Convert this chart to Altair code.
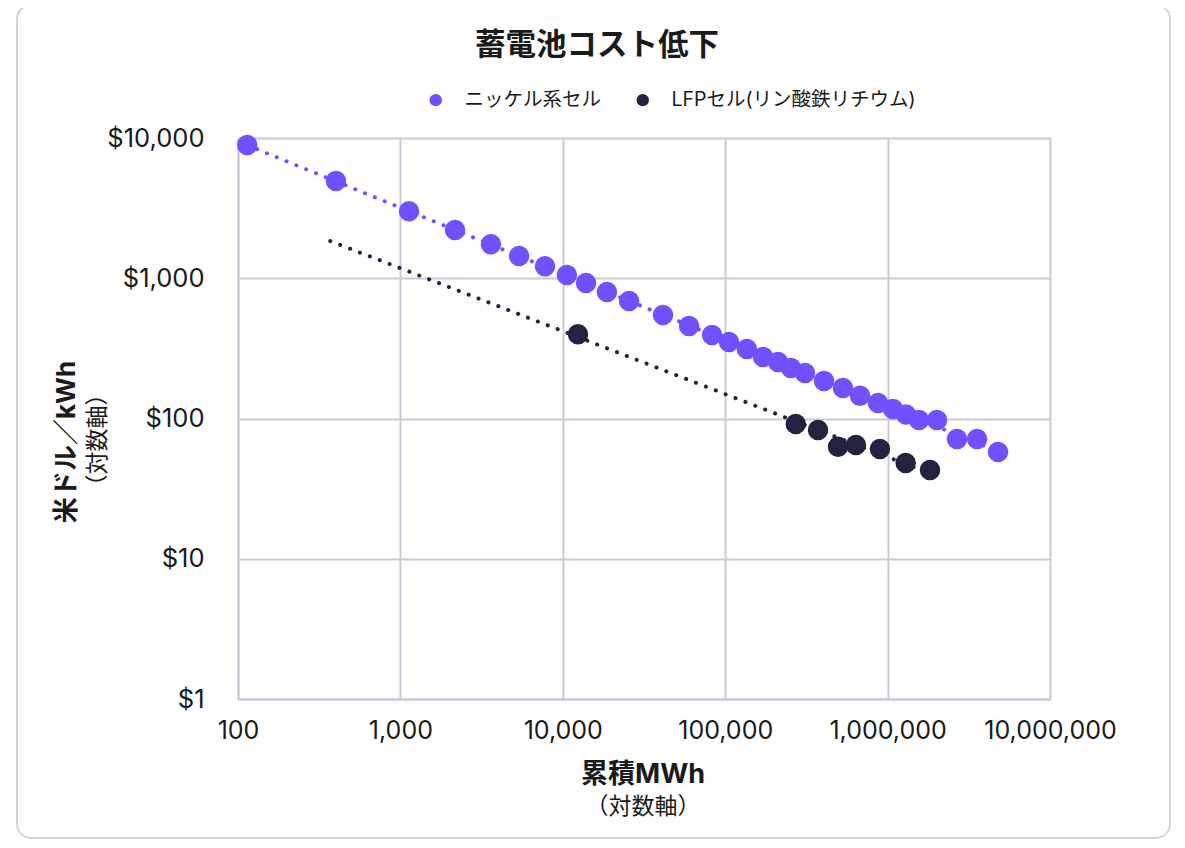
import altair as alt
import pandas as pd

# ---- data ----
nickel_name = "ニッケル系セル"
lfp_name = "LFPセル(リン酸鉄リチウム)"

nickel_mwh = [114, 401, 1130, 2170, 3610, 5380, 7770, 10600, 13900, 18700,
              25600, 41400, 59900, 83000, 105500, 136000, 171000, 211500, 254000, 310000,
              406000, 531000, 676000, 873000, 1079000, 1298000, 1560000, 2014000, 2675000, 3554000,
              4786000]
nickel_cost = [8900, 4930, 3010, 2210, 1750, 1440, 1220, 1054, 925, 798,
               688, 547, 457, 394, 351, 313, 274, 253, 229, 211,
               185, 165, 145, 129, 117, 107, 97.5, 97.5, 71.3, 71.3,
               57.6]

lfp_mwh = [12400, 272000, 373000, 495000, 638000, 897000, 1292000, 1824000]
lfp_cost = [398, 91.2, 82.7, 62.8, 64.6, 60.5, 48.1, 42.9]

x_ticks = [100, 1000, 10000, 100000, 1000000, 10000000]
y_ticks = [1, 10, 100, 1000, 10000]

PURPLE = "#7150FE"
DARK = "#222241"
GRID = "#CACADA"
FONT = "Inter, 'Noto Sans CJK JP', sans-serif"
TXT = "#1a1a1a"

df = pd.DataFrame({
    "mwh": nickel_mwh + lfp_mwh,
    "cost": nickel_cost + lfp_cost,
    "series": [nickel_name] * len(nickel_mwh) + [lfp_name] * len(lfp_mwh),
})

W, H = 812, 561

xscale = alt.Scale(type="log", domain=[100, 10000000])
yscale = alt.Scale(type="log", domain=[1, 10000])

xaxis = alt.Axis(values=x_ticks, format=",", grid=True, gridColor=GRID, gridWidth=2,
                 ticks=False, domainColor=GRID, domainWidth=2, labelFontSize=25,
                 labelFont=FONT, labelColor=TXT, labelPadding=19, title=None,
                 labelFlush=False, labelOverlap=False)
yaxis = alt.Axis(values=y_ticks, format="$,.0f", grid=True, gridColor=GRID, gridWidth=2,
                 ticks=False, domainColor=GRID, domainWidth=2, labelFontSize=25.5,
                 labelFont=FONT, labelColor=TXT, labelPadding=34, title=None,
                 labelFlush=False, labelOverlap=False)

base = alt.Chart(df)

trend_nickel = base.transform_filter(
    alt.datum.series == nickel_name
).transform_regression("mwh", "cost", method="pow").mark_line(
    color=PURPLE, strokeWidth=4, strokeDash=[0.1, 10.5], strokeCap="round"
).encode(
    x=alt.X("mwh:Q", scale=xscale, axis=xaxis),
    y=alt.Y("cost:Q", scale=yscale, axis=yaxis),
)

trend_lfp = base.transform_filter(
    alt.datum.series == lfp_name
).transform_regression("mwh", "cost", method="pow", extent=[370, 1824000]).mark_line(
    color=DARK, strokeWidth=4, strokeDash=[0.1, 10.5], strokeCap="round"
).encode(
    x=alt.X("mwh:Q", scale=xscale, axis=xaxis),
    y=alt.Y("cost:Q", scale=yscale, axis=yaxis),
)

points = base.mark_circle(size=420, opacity=1).encode(
    x=alt.X("mwh:Q", scale=xscale, axis=xaxis),
    y=alt.Y("cost:Q", scale=yscale, axis=yaxis),
    color=alt.Color("series:N",
                    scale=alt.Scale(domain=[nickel_name, lfp_name], range=[PURPLE, DARK]),
                    legend=alt.Legend(title=None, orient="none", direction="horizontal",
                                      legendX=188, legendY=-48,
                                      symbolType="circle", symbolSize=154,
                                      symbolStrokeWidth=0, labelFont=FONT,
                                      labelFontSize=19.5, labelColor=TXT,
                                      labelOffset=19, columnPadding=31,
                                      labelLimit=400)),
)

one = pd.DataFrame({"a": [0]})

border = alt.Chart(one).mark_rect(
    fillOpacity=0, stroke="#D2D2DE", strokeWidth=2, cornerRadius=14
).encode(x=alt.value(-221), x2=alt.value(932), y=alt.value(-133), y2=alt.value(700))

def label(text, x, y, size, bold, angle=0):
    m = alt.Chart(one).mark_text(
        text=text, font=FONT, fontSize=size, fontWeight="bold" if bold else "normal",
        color=TXT, align="center", baseline="middle", angle=angle
    )
    return m.encode(x=alt.value(x), y=alt.value(y))

title = label("蓄電池コスト低下", 359, -92, 30.5, True)
ytitle1 = label("米ドル／kWh", -171, 304, 26, True, 270)
ytitle2 = label("（対数軸）", -140, 302, 23, False, 270)
xtitle1 = label("累積MWh", 405, 637, 27, True)
xtitle2 = label("（対数軸）", 405, 669, 23, False)

chart = alt.layer(
    border, trend_nickel, trend_lfp, points, title, ytitle1, ytitle2, xtitle1, xtitle2
).properties(
    width=W, height=H,
    autosize=alt.AutoSizeParams(type="none"),
    padding={"left": 230, "top": 130, "right": 126, "bottom": 140},
    background="white",
).configure_view(strokeWidth=0)

chart.save("out.html", embed_options={"renderer": "svg", "actions": False})
